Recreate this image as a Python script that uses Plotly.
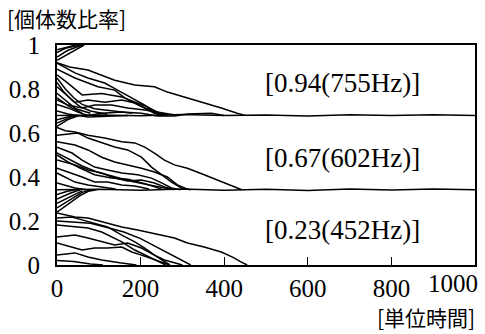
import plotly.graph_objects as go

# ---- data: each line is a list of (time, ratio) points ----
# upper group (converges to ~0.68, a few go to 1)
UP_TO_ONE_1 = [(0, 0.965), (20, 0.985), (55, 1.0)]
UP_TO_ONE_2 = [(0, 0.945), (25, 0.975), (60, 1.0)]
UP_TO_ONE_3 = [(0, 0.93), (30, 0.962), (65, 1.0)]
UP_TO_ONE_4 = [(0, 0.978), (30, 0.995), (45, 1.0)]
UP_A = [(0, 0.92), (30, 0.9), (74, 0.886), (138, 0.84), (186, 0.818), (233, 0.81), (264, 0.786),
        (312, 0.76), (352, 0.736), (393, 0.714), (431, 0.69), (450, 0.68)]
UP_B = [(0, 0.918), (43, 0.873), (74, 0.85), (114, 0.827), (145, 0.795), (179, 0.76), (210, 0.727),
        (233, 0.695), (255, 0.68)]
UP_C = [(0, 0.89), (43, 0.85), (98, 0.81), (138, 0.795), (162, 0.76), (202, 0.72), (233, 0.69), (250, 0.68)]
UP_D = [(0, 0.864), (26, 0.827), (60, 0.773), (107, 0.78), (155, 0.764), (186, 0.74), (217, 0.718),
        (240, 0.695), (260, 0.68)]
UP_E = [(0, 0.81), (43, 0.74), (74, 0.75), (114, 0.74), (155, 0.75), (186, 0.736), (210, 0.714),
        (240, 0.695), (265, 0.68)]
UP_F = [(0, 0.75), (26, 0.727), (60, 0.714), (90, 0.727), (131, 0.727), (169, 0.714), (210, 0.705),
        (257, 0.69), (290, 0.68)]
UP_G = [(0, 0.73), (26, 0.714), (50, 0.695), (74, 0.68), (107, 0.69), (155, 0.695), (202, 0.69),
        (240, 0.677), (281, 0.677), (312, 0.686), (369, 0.69), (400, 0.68)]
UP_H = [(0, 0.7), (26, 0.686), (74, 0.673), (121, 0.677), (170, 0.68)]
UP_I = [(0, 0.85), (20, 0.8), (40, 0.76), (60, 0.73), (90, 0.71), (130, 0.7), (180, 0.69)]
UP_J = [(0, 0.83), (15, 0.79), (35, 0.75), (55, 0.72), (80, 0.7), (120, 0.685)]
UP_K = [(0, 0.78), (20, 0.75), (45, 0.71), (80, 0.69)]
UP_L = [(0, 0.76), (30, 0.72), (60, 0.69)]
UP_RISE_1 = [(0, 0.63), (25, 0.66), (50, 0.678)]
UP_RISE_2 = [(0, 0.645), (30, 0.67), (55, 0.68)]
UP_RISE_3 = [(0, 0.66), (40, 0.68)]
UP_FLAT = [(0, 0.68), (100, 0.682), (200, 0.678), (300, 0.684), (400, 0.679), (500, 0.682),
           (600, 0.677), (700, 0.683), (800, 0.679), (900, 0.683), (1000, 0.68)]

# middle group (converges to ~0.34)
MID_A = [(0, 0.625), (20, 0.61), (43, 0.605), (74, 0.59), (114, 0.577), (155, 0.56), (186, 0.555),
         (210, 0.536), (233, 0.509), (257, 0.477), (281, 0.455), (312, 0.44), (352, 0.41),
         (390, 0.38), (420, 0.36), (442, 0.342)]
MID_B = [(0, 0.59), (50, 0.6), (74, 0.577), (107, 0.555), (138, 0.536), (169, 0.523), (202, 0.49),
         (226, 0.445), (250, 0.41), (274, 0.377), (298, 0.35), (320, 0.342)]
MID_C = [(0, 0.56), (43, 0.545), (74, 0.523), (107, 0.49), (138, 0.468), (169, 0.455), (202, 0.44),
         (233, 0.423), (264, 0.4), (288, 0.364), (312, 0.345)]
MID_D = [(0, 0.536), (36, 0.509), (60, 0.477), (90, 0.445), (121, 0.432), (155, 0.418), (193, 0.41),
         (226, 0.395), (250, 0.373), (274, 0.35), (295, 0.342)]
MID_E = [(0, 0.477), (43, 0.455), (74, 0.432), (107, 0.418), (138, 0.395), (169, 0.382), (202, 0.386),
         (233, 0.373), (257, 0.355), (280, 0.342)]
MID_F = [(0, 0.44), (36, 0.418), (60, 0.4), (90, 0.377), (121, 0.377), (155, 0.364), (186, 0.359), (220, 0.345)]
MID_G = [(0, 0.418), (43, 0.377), (74, 0.364), (107, 0.355), (140, 0.345)]
MID_H = [(0, 0.373), (43, 0.35), (70, 0.342)]
MID_I = [(0, 0.51), (30, 0.48), (60, 0.45), (100, 0.42), (140, 0.4), (180, 0.38), (230, 0.36), (270, 0.345)]
MID_J = [(0, 0.5), (25, 0.47), (55, 0.44), (90, 0.41), (130, 0.395), (170, 0.39), (210, 0.37), (250, 0.345)]
MID_RISE_1 = [(0, 0.24), (30, 0.28), (55, 0.315), (75, 0.335), (95, 0.342)]
MID_RISE_2 = [(0, 0.26), (30, 0.295), (60, 0.33), (80, 0.342)]
MID_RISE_3 = [(0, 0.28), (30, 0.31), (60, 0.337)]
MID_RISE_4 = [(0, 0.3), (30, 0.325), (55, 0.342)]
MID_RISE_5 = [(0, 0.32), (25, 0.335), (45, 0.342)]
MID_FLAT = [(0, 0.342), (100, 0.344), (200, 0.34), (300, 0.345), (400, 0.34), (500, 0.344),
            (600, 0.339), (700, 0.345), (800, 0.341), (900, 0.345), (1000, 0.342)]

# lower group (converges to 0)
LOW_A = [(0, 0.236), (43, 0.218), (74, 0.214), (114, 0.195), (155, 0.173), (193, 0.159), (217, 0.15),
         (250, 0.136), (281, 0.123), (312, 0.1), (352, 0.082), (393, 0.059), (420, 0.036), (440, 0.014), (455, 0.0)]
LOW_B = [(0, 0.214), (36, 0.218), (60, 0.205), (90, 0.19), (121, 0.173), (155, 0.136), (186, 0.105),
         (210, 0.077), (233, 0.045), (257, 0.023), (281, 0.009), (300, 0.0)]
LOW_C = [(0, 0.182), (43, 0.173), (74, 0.168), (107, 0.15), (138, 0.123), (155, 0.105), (186, 0.068),
         (210, 0.045), (233, 0.023), (260, 0.0)]
LOW_D = [(0, 0.127), (43, 0.136), (74, 0.123), (107, 0.105), (138, 0.091), (169, 0.1), (202, 0.077),
         (233, 0.045), (257, 0.014), (270, 0.0)]
LOW_E = [(0, 0.1), (36, 0.082), (60, 0.068), (90, 0.077), (121, 0.077), (155, 0.082), (179, 0.059),
         (202, 0.045), (240, 0.02), (270, 0.0)]
LOW_F = [(0, 0.045), (43, 0.055), (74, 0.036), (107, 0.023), (150, 0.01), (190, 0.0)]
LOW_G = [(0, 0.02), (40, 0.016), (80, 0.005), (110, 0.0)]
LOW_H = [(0, 0.2), (40, 0.195), (80, 0.19), (120, 0.17), (160, 0.15), (200, 0.12), (240, 0.08), (280, 0.04), (320, 0.0)]

ALL_LINES = [UP_TO_ONE_1, UP_TO_ONE_2, UP_TO_ONE_3, UP_TO_ONE_4, UP_A, UP_B, UP_C, UP_D, UP_E, UP_F,
             UP_G, UP_H, UP_I, UP_J, UP_K, UP_L, UP_RISE_1, UP_RISE_2, UP_RISE_3, UP_FLAT,
             MID_A, MID_B, MID_C, MID_D, MID_E, MID_F, MID_G, MID_H, MID_I, MID_J,
             MID_RISE_1, MID_RISE_2, MID_RISE_3, MID_RISE_4, MID_RISE_5, MID_FLAT,
             LOW_A, LOW_B, LOW_C, LOW_D, LOW_E, LOW_F, LOW_G, LOW_H]

X_TICKS = [0, 200, 400, 600, 800]
Y_TICKS = [0, 0.2, 0.4, 0.6, 0.8, 1]
Y_TICK_TEXT = ["0", "0.2", "0.4", "0.6", "0.8", "1"]
LABELS = ["[0.94(755Hz)]", "[0.67(602Hz)]", "[0.23(452Hz)]"]
LABEL_X = [683, 683, 683]
LABEL_Y = [0.827, 0.486, 0.16]

SERIF = "Liberation Serif, Times New Roman, serif"
CJK = "Noto Sans CJK JP, sans-serif"

fig = go.Figure()
for line in ALL_LINES:
    fig.add_trace(go.Scatter(x=[p[0] for p in line], y=[p[1] for p in line], mode="lines",
                             line=dict(color="black", width=1.5), hoverinfo="skip", showlegend=False))

for txt, lx, ly in zip(LABELS, LABEL_X, LABEL_Y):
    fig.add_annotation(x=lx, y=ly, text=txt, showarrow=False, font=dict(family=SERIF, size=27, color="black"))

fig.add_annotation(x=1000, y=-0.085, xref="x", yref="paper", text="1000", showarrow=False,
                   xanchor="right", yanchor="middle", xshift=5, font=dict(family=SERIF, size=25, color="black"))
fig.add_annotation(x=-0.124, y=1.123, xref="paper", yref="paper", text="[個体数比率]", showarrow=False,
                   xanchor="left", yanchor="middle", font=dict(family=CJK, size=21, color="black"))
fig.add_annotation(x=1.004, y=-0.235, xref="paper", yref="paper", text="[単位時間]", showarrow=False,
                   xanchor="right", yanchor="middle", font=dict(family=CJK, size=21, color="black"))

fig.update_layout(
    width=485, height=334, margin=dict(l=57, r=8, t=45, b=69),
    paper_bgcolor="white", plot_bgcolor="white", showlegend=False,
)
fig.update_xaxes(range=[0, 1000], tickvals=X_TICKS, ticks="inside", ticklen=8, tickwidth=1.3,
                 tickcolor="black", showgrid=False, zeroline=False, showline=True, linecolor="black",
                 linewidth=2.2, mirror=True, tickfont=dict(family=SERIF, size=25, color="black"))
fig.update_yaxes(range=[0, 1], tickvals=Y_TICKS, ticktext=Y_TICK_TEXT, ticks="", showgrid=False,
                 zeroline=False, showline=True, linecolor="black", linewidth=2.2, mirror=True,
                 ticklabelstandoff=10, tickfont=dict(family=SERIF, size=25, color="black"))

fig.write_html("out.html", config={"displayModeBar": False},
               post_script="document.body.style.margin='0';")
